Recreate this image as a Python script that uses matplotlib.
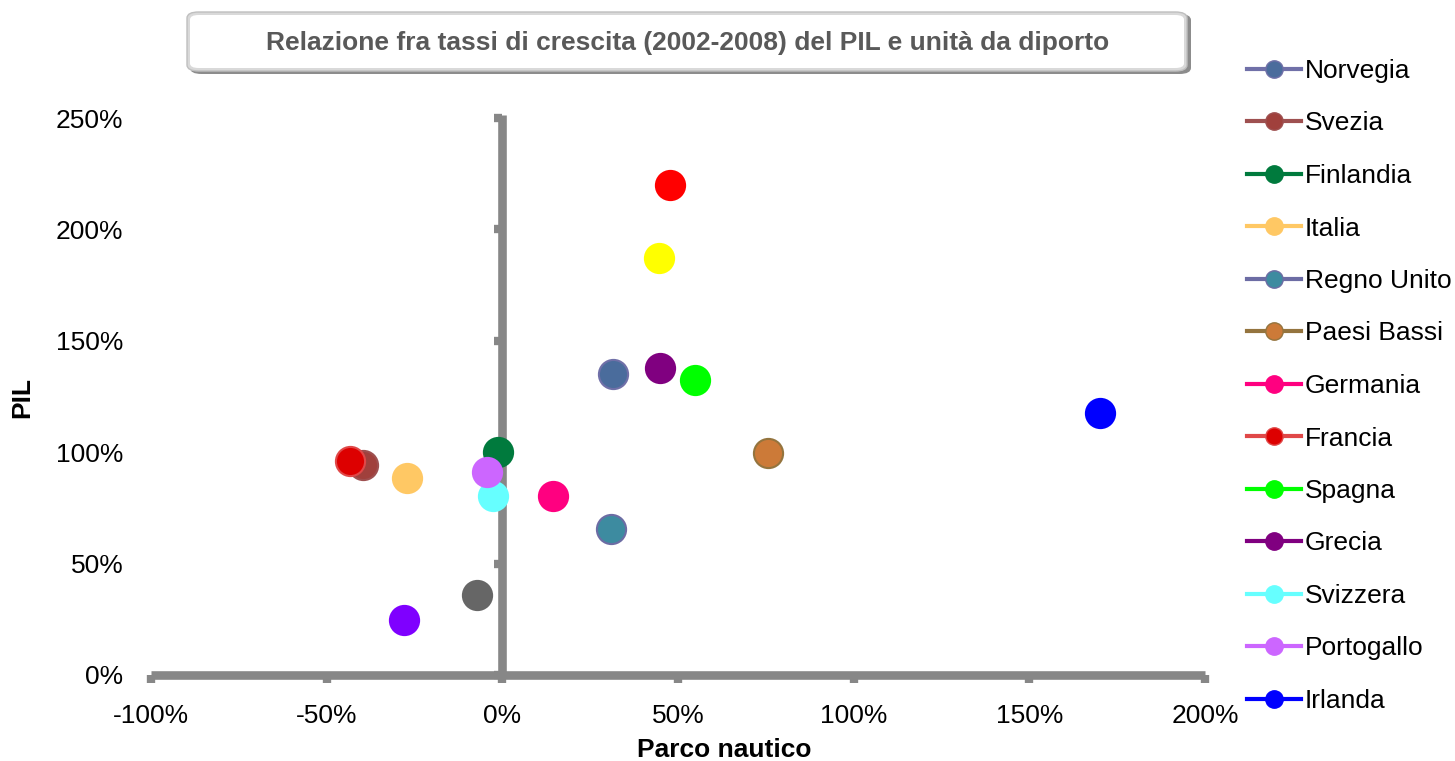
import matplotlib
matplotlib.use("Agg")
import matplotlib.pyplot as plt
from matplotlib.lines import Line2D
from matplotlib.patches import FancyBboxPatch
from matplotlib.ticker import FuncFormatter

plt.rcParams["font.family"] = ["Liberation Sans", "DejaVu Sans"]

# tassi di crescita 2002-2008 (%): parco nautico (x) e PIL (y)
paesi = ["Norvegia", "Svezia", "Finlandia", "Italia", "Regno Unito", "Paesi Bassi",
         "Germania", "Francia", "Spagna", "Grecia", "Svizzera", "Portogallo", "Irlanda"]
parco = [31.5, -39.7, -1.2, -27.0, 30.9, 75.6, 14.3, -43.4, 54.8, 45.0, -2.6, -4.4, 170.1]
pil = [135.0, 94.4, 100.2, 88.4, 65.4, 99.5, 80.3, 96.1, 132.3, 137.7, 80.3, 91.0, 117.6]
colori = ["#4A6C9C", "#A0403C", "#007A3D", "#FFC864", "#3D8BA0", "#CC7A38",
          "#FF0080", "#DD0000", "#00FF00", "#800080", "#66FFFF", "#CC66FF", "#0000FF"]
bordi = ["#7070A8", "#9E5050", "#007A3D", "#FFC864", "#6C6CA4", "#94743E",
         "#FF0080", "#E04848", "#00FF00", "#800080", "#66FFFF", "#CC66FF", "#0000FF"]

# serie senza voce in legenda
parco_altri = [47.8, 44.6, -7.1, -28.1]
pil_altri = [219.9, 187.0, 35.8, 24.8]
colori_altri = ["#FF0000", "#FFFF00", "#666666", "#7F00FF"]

x_ticks = [-100, -50, 0, 50, 100, 150, 200]
y_ticks = [0, 50, 100, 150, 200, 250]

grigio = "#878787"
fs = 19

fig = plt.figure(figsize=(14.55, 7.61), dpi=100)
ax = fig.add_axes([151 / 1455, 1 - 675 / 761, 1054 / 1455, 557 / 761])
ax.set_xlim(-100, 200)
ax.set_ylim(0, 250)
for s in ax.spines.values():
    s.set_visible(False)

# assi che si incrociano nell'origine
ax.axhline(0, color=grigio, lw=6.2, solid_capstyle="butt", clip_on=False, zorder=1)
ax.axvline(0, ymin=0, ymax=1.005, color=grigio, lw=6.2, solid_capstyle="butt",
           clip_on=False, zorder=1)
ax.plot([0] * len(y_ticks), y_ticks, ls="none", marker=0, ms=5.5, mew=6,
        color=grigio, clip_on=False, zorder=1)
ax.plot(x_ticks, [0] * len(x_ticks), ls="none", marker=3, ms=5.5, mew=6,
        color=grigio, clip_on=False, zorder=1)

for i in range(len(paesi)):
    ax.plot(parco[i], pil[i], ls="none", marker="o", ms=21, mfc=colori[i],
            mec=bordi[i], mew=1.5, zorder=3, clip_on=False)
for i in range(len(parco_altri)):
    ax.plot(parco_altri[i], pil_altri[i], ls="none", marker="o", ms=21,
            mfc=colori_altri[i], mec=colori_altri[i], mew=1.5, zorder=3, clip_on=False)

perc = FuncFormatter(lambda v, p: f"{v:.0f}%")
ax.set_xticks(x_ticks)
ax.set_yticks(y_ticks)
ax.xaxis.set_major_formatter(perc)
ax.yaxis.set_major_formatter(perc)
ax.tick_params(axis="both", length=0, labelsize=fs)
ax.tick_params(axis="y", pad=20)
ax.tick_params(axis="x", pad=21)

fig.text(22 / 1455, 1 - 398 / 761, "PIL", rotation=90, fontsize=fs, fontweight="bold",
         ha="center", va="center")
fig.text(724 / 1455, 1 - 750 / 761, "Parco nautico", fontsize=fs, fontweight="bold",
         ha="center", va="center")

# riquadro del titolo con ombra e bordo in rilievo
ombra = FancyBboxPatch((190 / 1455, 1 - 74 / 761), 1001 / 1455, 60 / 761,
                       boxstyle="round,pad=0,rounding_size=0.008",
                       transform=fig.transFigure, fc="#8C8C8C", ec="none", zorder=0)
cornice = FancyBboxPatch((187 / 1455, 1 - 71 / 761), 1000 / 1455, 59 / 761,
                         boxstyle="round,pad=0,rounding_size=0.008",
                         transform=fig.transFigure, fc="#D9D9D9", ec="#BFBFBF", lw=1,
                         zorder=1)
box = FancyBboxPatch((190 / 1455, 1 - 68 / 761), 994 / 1455, 53 / 761,
                     boxstyle="round,pad=0,rounding_size=0.006",
                     transform=fig.transFigure, fc="white", ec="none", zorder=2)
fig.patches.extend([ombra, cornice, box])
fig.text(688 / 1455, 1 - 43 / 761,
         "Relazione fra tassi di crescita (2002-2008) del PIL e unità da diporto",
         fontsize=19, fontweight="bold", color="#595959", ha="center", va="center",
         zorder=3)

handles = [Line2D([], [], color=bordi[i], lw=3, marker="o", ms=12.5, mfc=colori[i],
                  mec=bordi[i], mew=1) for i in range(len(paesi))]
fig.legend(handles, paesi, loc="upper left", bbox_to_anchor=(1247 / 1455, 1 - 59 / 761),
           frameon=False, fontsize=fs, handlelength=2.05, handletextpad=0.15,
           labelspacing=1.08, borderaxespad=0, borderpad=0)

fig.savefig("out.png", dpi=100)
